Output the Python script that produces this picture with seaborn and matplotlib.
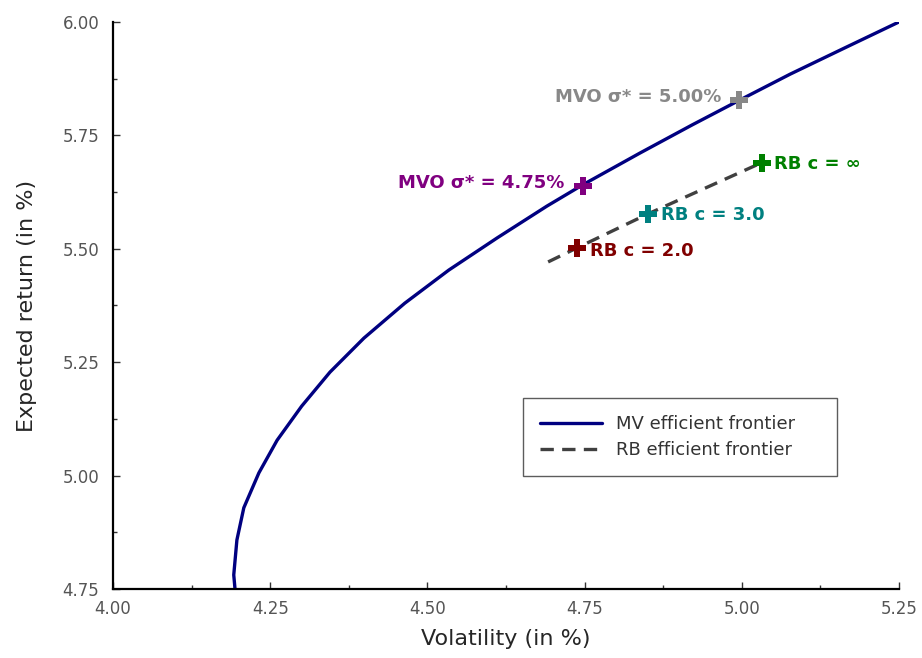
import numpy as np
import pandas as pd
import matplotlib
matplotlib.use("Agg")
import matplotlib.pyplot as plt
import seaborn as sns

# ---------------------------
# Data
# ---------------------------
mv_vol = [4.194, 4.192, 4.197, 4.208, 4.232, 4.261, 4.300, 4.345, 4.399, 4.464,
          4.534, 4.611, 4.690, 4.747, 4.838, 4.921, 4.997, 5.077, 5.164, 5.250]
mv_ret = [4.750, 4.781, 4.858, 4.929, 5.006, 5.078, 5.153, 5.228, 5.303, 5.380,
          5.453, 5.524, 5.594, 5.641, 5.711, 5.773, 5.828, 5.885, 5.943, 6.000]

rb_vol = [4.692, 4.738, 4.851, 5.032]
rb_ret = [5.471, 5.502, 5.577, 5.690]

pt_names = ["MVO σ* = 5.00%", "MVO σ* = 4.75%", "RB c = ∞", "RB c = 3.0", "RB c = 2.0"]
pt_vol = [4.996, 4.747, 5.032, 4.851, 4.738]
pt_ret = [5.828, 5.638, 5.690, 5.577, 5.502]
pt_colors = ["#888888", "#800080", "#008000", "#008080", "#800000"]

x_ticks = [4.00, 4.25, 4.50, 4.75, 5.00, 5.25]
y_ticks = [4.75, 5.00, 5.25, 5.50, 5.75, 6.00]

sns.set_style("ticks")
plt.rcParams['font.family'] = ['DejaVu Sans']

fig = plt.figure(figsize=(9.22, 6.58), dpi=100)
ax = fig.add_axes([0.1226, 0.1049, 0.8524, 0.8617])

mv = pd.DataFrame({"vol": mv_vol, "ret": mv_ret})
rb = pd.DataFrame({"vol": rb_vol, "ret": rb_ret})

sns.lineplot(data=mv, x="vol", y="ret", sort=False, ax=ax, color="#000080",
             lw=2.4, label="MV efficient frontier")
sns.lineplot(data=rb, x="vol", y="ret", sort=False, ax=ax, color="#404040",
             lw=2.4, linestyle=(0, (4, 2.5)), label="RB efficient frontier")

pts = pd.DataFrame({"vol": pt_vol, "ret": pt_ret, "name": pt_names})
sns.scatterplot(data=pts, x="vol", y="ret", hue="name", palette=pt_colors,
                marker="P", s=170, edgecolor="none", legend=False, ax=ax, zorder=5)

# annotations
offsets = [(-13, 2, "right"), (-13, 2, "right"), (9, -1, "left"), (9, -1, "left"), (9, -2, "left")]
for name, xv, yv, c, (dx, dy, ha) in zip(pt_names, pt_vol, pt_ret, pt_colors, offsets):
    ax.annotate(name, (xv, yv), xytext=(dx, dy), textcoords="offset points",
                ha=ha, va="center", color=c, fontsize=13, fontweight="bold")

ax.set_xlim(4.00, 5.25)
ax.set_ylim(4.75, 6.00)
ax.set_xticks(x_ticks)
ax.set_yticks(y_ticks)
ax.set_xticklabels([f"{v:.2f}" for v in x_ticks])
ax.set_yticklabels([f"{v:.2f}" for v in y_ticks])
ax.set_xticks([4.125, 4.375, 4.625, 4.875, 5.125], minor=True)
ax.set_yticks([4.875, 5.125, 5.375, 5.625, 5.875], minor=True)
ax.tick_params(which="major", direction="in", length=5, width=1, labelsize=12,
               labelcolor="#555555", color="#333333")
ax.tick_params(which="minor", direction="in", length=3, width=1, color="#333333")
ax.tick_params(axis="y", pad=10)
ax.tick_params(axis="x", pad=8)

for s in ["left", "bottom"]:
    ax.spines[s].set_linewidth(1.6)
    ax.spines[s].set_color("black")
sns.despine(ax=ax)

ax.set_xlabel("Volatility (in %)", fontsize=16, labelpad=8)
ax.set_ylabel("Expected return (in %)", fontsize=16, labelpad=18)

leg = ax.legend(loc="upper left", bbox_to_anchor=(0.522, 0.207, 0.3995, 0.13),
                mode="expand", fontsize=13,
                frameon=True, fancybox=False, edgecolor="#333333", handlelength=3.4,
                borderpad=0.95, labelspacing=0.45, handletextpad=0.8, borderaxespad=0)
leg.get_frame().set_linewidth(1.0)
for t in leg.get_texts():
    t.set_color("#333333")

fig.savefig("out.png", dpi=100)
